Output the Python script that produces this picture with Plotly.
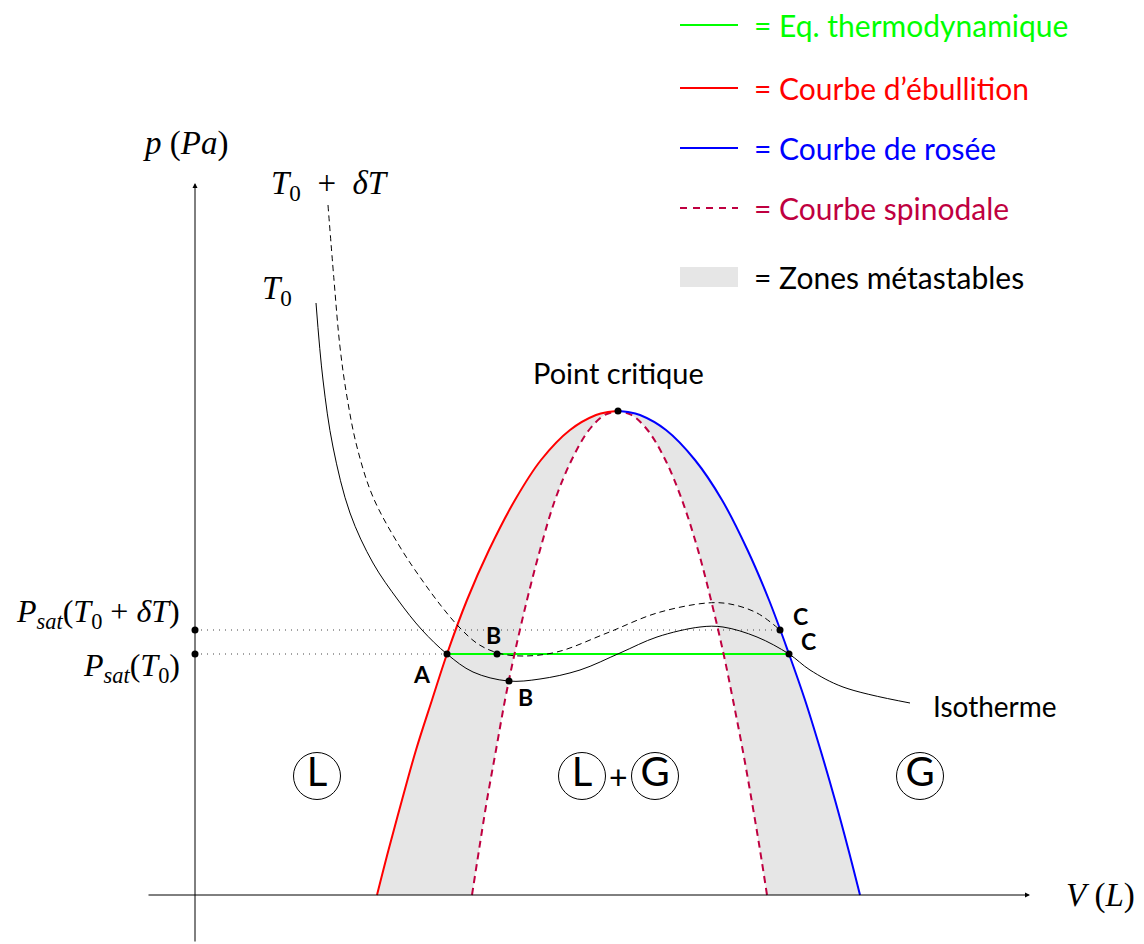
import plotly.graph_objects as go

# coordinates: V to the right of the p axis, p above the V axis (1 unit = 1 px)
bubble_v = [182, 193.5, 207, 221, 237, 252, 272, 294, 320, 346, 375, 401, 413, 423]
bubble_p = [0, 45, 95, 145, 195, 241, 295, 345, 395, 435, 465, 480, 483, 484]

dew_v = [665, 653.5, 640, 625.5, 610, 594, 574, 552.5, 527, 500, 471, 445, 433, 423]
dew_p = [0, 45, 95, 145, 195, 241, 295, 345, 395, 435, 465, 480, 483, 484]

spin_left_v = [277, 284, 292, 301, 310, 319.5, 332, 345, 360, 376.6, 394, 409.7, 423]
spin_left_p = [0, 45, 95, 145, 195, 241, 295, 345, 395, 435, 465, 480, 484]
spin_right_v = [572, 565, 556.6, 547.7, 538, 528.6, 516, 503, 487, 470.4, 452.5, 436.5, 423]
spin_right_p = [0, 45, 95, 145, 195, 241, 295, 345, 395, 435, 465, 480, 484]

iso_v = [121, 128, 138, 155, 178, 203, 227, 252, 278, 313, 345, 385, 425, 462,
         505, 528, 562, 594, 615, 648, 715]
iso_p = [592, 515, 448, 382, 332, 295, 265, 241, 223, 214, 216, 225, 242, 258,
         268, 268, 258, 241, 225, 208, 192]

iso2_v = [133, 139, 145, 152, 162, 178, 205, 227, 247, 265, 283, 303, 327, 362,
          412, 462, 512, 535, 562, 585]
iso2_p = [690, 615, 548, 498, 448, 398, 348, 315, 288, 267, 251, 242, 239, 243,
          262, 282, 292, 291, 282, 265]

psat0 = 241
psat1 = 265
v_A, v_C = 252, 594
crit = (423, 484)
pts_v = [252, 314, 302, 585, 594, 423, 0, 0]
pts_p = [241, 214, 241, 265, 241, 484, 265, 241]

point_labels = ["A", "B", "B", "C", "C"]
point_lab_v = [227, 330, 298, 605, 613]
point_lab_p = [221, 198, 260, 279, 254]

phase_letters = ["L", "L", "G", "G"]
phase_v = [122, 387, 460, 725]
phase_p = [119, 119, 119, 119]

legend_texts = ["= Eq. thermodynamique", "= Courbe d\u2019\u00e9bullition",
                "= Courbe de ros\u00e9e", "= Courbe spinodale", "= Zones m\u00e9tastables"]
legend_colors = ["#00ff00", "#ff0000", "#0000ff", "#bf0040", "black"]
legend_p = [870, 807, 747, 687, 618]

SANS = "Lato"
SERIF = "Liberation Serif"


def curve(v, p, **line):
    line.setdefault("shape", "spline")
    line["simplify"] = False
    return go.Scatter(x=v, y=p, mode="lines", line=line, hoverinfo="skip")


fig = go.Figure()

# metastable zones
fig.add_trace(curve(bubble_v, bubble_p, width=0))
t = curve(spin_left_v, spin_left_p, width=0)
t.update(fill="tonextx", fillcolor="#e6e6e6")
fig.add_trace(t)
fig.add_trace(curve(dew_v, dew_p, width=0))
t = curve(spin_right_v, spin_right_p, width=0)
t.update(fill="tonextx", fillcolor="#e6e6e6")
fig.add_trace(t)

# dotted guides
fig.add_trace(curve([0, 585], [psat1, psat1], color="#444", width=1, dash="1px,5px", shape="linear"))
fig.add_trace(curve([0, v_A], [psat0, psat0], color="#444", width=1, dash="1px,5px", shape="linear"))

# curves
fig.add_trace(curve([v_A, v_C], [psat0, psat0], color="#00ff00", width=2.2, shape="linear"))
fig.add_trace(curve(spin_left_v, spin_left_p, color="#bf0040", width=2, dash="7px,5px"))
fig.add_trace(curve(spin_right_v, spin_right_p, color="#bf0040", width=2, dash="7px,5px"))
fig.add_trace(curve(bubble_v, bubble_p, color="#ff0000", width=2))
fig.add_trace(curve(dew_v, dew_p, color="#0000ff", width=2))
fig.add_trace(curve(iso_v, iso_p, color="black", width=1))
fig.add_trace(curve(iso2_v, iso2_p, color="black", width=1, dash="6px,4px"))

fig.add_trace(go.Scatter(x=pts_v, y=pts_p, mode="markers",
                         marker=dict(color="black", size=7)))

# phase circles
fig.add_trace(go.Scatter(x=phase_v, y=phase_p, mode="markers+text", text=phase_letters,
                         textposition="middle center",
                         textfont=dict(family=SANS, size=40, color="black"),
                         marker=dict(symbol="circle-open", size=47, color="black",
                                     line=dict(width=1, color="black"))))

# legend samples
for i in range(3):
    fig.add_trace(curve([485, 543], [legend_p[i], legend_p[i]], color=legend_colors[i],
                        width=2, shape="linear"))
fig.add_trace(curve([485, 543], [legend_p[3], legend_p[3]], color=legend_colors[3],
                    width=2, dash="7px,6px", shape="linear"))
fig.add_shape(type="rect", x0=485, x1=543, y0=608, y1=628, fillcolor="#e6e6e6", line_width=0)

ann = []
for txt, c, p in zip(legend_texts, legend_colors, legend_p):
    ann.append(dict(x=557, y=p, text=txt, xanchor="left", yanchor="middle", showarrow=False,
                    font=dict(family=SANS, size=30, color=c)))

# axes arrows
ann.append(dict(x=835, y=0, ax=-48, ay=0, axref="x", ayref="y", text="", showarrow=True,
                arrowhead=2, arrowsize=1, arrowwidth=1, arrowcolor="black"))
ann.append(dict(x=0, y=712, ax=0, ay=-48, axref="x", ayref="y", text="", showarrow=True,
                arrowhead=2, arrowsize=1, arrowwidth=1, arrowcolor="black"))

ann.append(dict(x=-10, y=752, text="<i>p</i> (<i>Pa</i>)", showarrow=False,
                font=dict(family=SERIF, size=33, color="black")))
ann.append(dict(x=905, y=0, text="<i>V</i> (<i>L</i>)", showarrow=False,
                font=dict(family=SERIF, size=33, color="black")))
ann.append(dict(x=135, y=710, text="<i>T</i><sub>0</sub>  +  <i>\u03b4T</i>", showarrow=False,
                font=dict(family=SERIF, size=33, color="black")))
ann.append(dict(x=82, y=605, text="<i>T</i><sub>0</sub>", showarrow=False,
                font=dict(family=SERIF, size=33, color="black")))
ann.append(dict(x=-13, y=282, text="<i>P<sub>sat</sub></i>(<i>T</i><sub>0</sub> + <i>\u03b4T</i>)",
                xanchor="right", showarrow=False, font=dict(family=SERIF, size=32, color="black")))
ann.append(dict(x=-13, y=228, text="<i>P<sub>sat</sub></i>(<i>T</i><sub>0</sub>)",
                xanchor="right", showarrow=False, font=dict(family=SERIF, size=32, color="black")))

ann.append(dict(x=crit[0], y=523, text="Point critique", showarrow=False,
                font=dict(family=SANS, size=29, color="black")))
ann.append(dict(x=800, y=189, text="Isotherme", showarrow=False,
                font=dict(family=SANS, size=28, color="black")))
ann.append(dict(x=423, y=119, text="+", showarrow=False,
                font=dict(family=SANS, size=32, color="black")))
for txt, v, p in zip(point_labels, point_lab_v, point_lab_p):
    ann.append(dict(x=v, y=p, text="<b>" + txt + "</b>", showarrow=False,
                    font=dict(family=SANS, size=23, color="black")))

# the page body has an 8px margin, so the figure is 8px smaller and the ranges shifted
fig.update_layout(
    width=1136, height=936,
    margin=dict(l=0, r=0, t=0, b=0),
    paper_bgcolor="white", plot_bgcolor="white",
    showlegend=False,
    annotations=ann,
    xaxis=dict(range=[-187, 949], visible=False, fixedrange=True),
    yaxis=dict(range=[-49, 887], visible=False, fixedrange=True),
)

fig.write_html("out.html")
